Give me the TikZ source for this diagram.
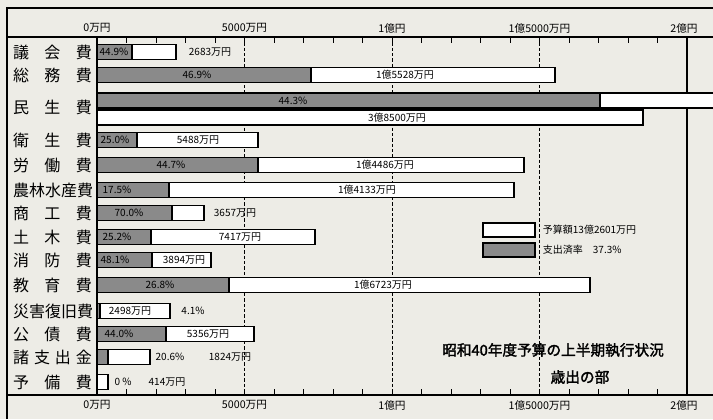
\documentclass[tikz,border=0pt]{standalone}
\usepackage{fontspec}
\setmainfont{Noto Sans CJK JP}
\newfontfamily\titlefont[FakeBold=2]{Noto Sans CJK JP}
\definecolor{paper}{RGB}{237,236,230}
\definecolor{spent}{RGB}{138,138,138}

\begin{document}
\begin{tikzpicture}[x=0.75pt,y=-0.75pt,
    bar/.style={draw=black,line width=0.9pt,fill=white},
    spentbar/.style={draw=black,line width=0.9pt,fill=spent},
    item/.style={font=\fontsize{12}{12}\selectfont,inner sep=0pt},
    pct/.style={font=\fontsize{7.5}{7.5}\selectfont,inner sep=0.5pt},
    amt/.style={font=\fontsize{7.5}{7.5}\selectfont,inner sep=0.5pt},
    scalelbl/.style={font=\fontsize{8}{8}\selectfont,inner sep=0pt},
    guide/.style={line width=0.7pt,dash pattern=on 2.5pt off 1.5pt}]
  \useasboundingbox[fill=paper] (0,0) rectangle (713,419);

  % frame and scale
  \draw[line width=0.8pt] (7,419) -- (7,8) -- (713,8);
  \draw[line width=0.8pt] (7,37) -- (713,37);
  \draw[line width=0.8pt] (7,395) -- (713,395);
  \draw[line width=0.8pt] (97,37) -- (97,395);
  \draw[line width=0.8pt] (687,37) -- (687,395);
  \draw[line width=0.7pt] (126.5,37)--++(0,6) (156,37)--++(0,6) (185.5,37)--++(0,6) (215,37)--++(0,6)
    (244.5,37)--++(0,6) (274,37)--++(0,6) (303.5,37)--++(0,6) (333,37)--++(0,6) (362.5,37)--++(0,6)
    (392,37)--++(0,6) (421.5,37)--++(0,6) (451,37)--++(0,6) (480.5,37)--++(0,6) (510,37)--++(0,6)
    (539.5,37)--++(0,6) (569,37)--++(0,6) (598.5,37)--++(0,6) (628,37)--++(0,6) (657.5,37)--++(0,6);
  \draw[line width=0.7pt] (126.5,395)--++(0,-6) (156,395)--++(0,-6) (185.5,395)--++(0,-6) (215,395)--++(0,-6)
    (244.5,395)--++(0,-6) (274,395)--++(0,-6) (303.5,395)--++(0,-6) (333,395)--++(0,-6) (362.5,395)--++(0,-6)
    (392,395)--++(0,-6) (421.5,395)--++(0,-6) (451,395)--++(0,-6) (480.5,395)--++(0,-6) (510,395)--++(0,-6)
    (539.5,395)--++(0,-6) (569,395)--++(0,-6) (598.5,395)--++(0,-6) (628,395)--++(0,-6) (657.5,395)--++(0,-6);
  \draw[guide] (244.5,37) -- (244.5,395);
  \draw[guide] (392,37) -- (392,395);
  \draw[guide] (539.5,37) -- (539.5,395);

  \node[scalelbl] (top0) at (97,28) {0万円};
  \node[scalelbl] (top5) at (244.5,28) {5000万円};
  \node[scalelbl] (top10) at (392,28) {1億円};
  \node[scalelbl] (top15) at (539.5,28) {1億5000万円};
  \node[scalelbl] (top20) at (684,28) {2億円};
  \node[scalelbl] (bot0) at (97,405) {0万円};
  \node[scalelbl] (bot5) at (244.5,405) {5000万円};
  \node[scalelbl] (bot10) at (392,405) {1億円};
  \node[scalelbl] (bot15) at (539.5,405) {1億5000万円};
  \node[scalelbl] (bot20) at (684,405) {2億円};

  % items
  \node[item] (gikai) at (52.5,52) {\makebox[59pt][s]{議\hfill 会\hfill 費}};
  \node[item] (somu) at (52.5,75) {\makebox[59pt][s]{総\hfill 務\hfill 費}};
  \node[item] (minsei) at (52.5,107) {\makebox[59pt][s]{民\hfill 生\hfill 費}};
  \node[item] (eisei) at (52.5,140) {\makebox[59pt][s]{衛\hfill 生\hfill 費}};
  \node[item] (rodo) at (52.5,165) {\makebox[59pt][s]{労\hfill 働\hfill 費}};
  \node[item] (norin) at (52.5,190) {\makebox[59pt][s]{農\hfill 林\hfill 水\hfill 産\hfill 費}};
  \node[item] (shoko) at (52.5,213) {\makebox[59pt][s]{商\hfill 工\hfill 費}};
  \node[item] (doboku) at (52.5,237) {\makebox[59pt][s]{土\hfill 木\hfill 費}};
  \node[item] (shobo) at (52.5,260) {\makebox[59pt][s]{消\hfill 防\hfill 費}};
  \node[item] (kyoiku) at (52.5,285) {\makebox[59pt][s]{教\hfill 育\hfill 費}};
  \node[item] (saigai) at (52.5,311) {\makebox[59pt][s]{災\hfill 害\hfill 復\hfill 旧\hfill 費}};
  \node[item] (kosai) at (52.5,334) {\makebox[59pt][s]{公\hfill 債\hfill 費}};
  \node[item] (shoshi) at (52.5,357) {\makebox[59pt][s]{諸\hfill 支\hfill 出\hfill 金}};
  \node[item] (yobi) at (52.5,382) {\makebox[59pt][s]{予\hfill 備\hfill 費}};

  % bars: budget (white) and spent part (grey)
  \draw[bar] (97,44.5) rectangle (176,59.5);  \draw[spentbar] (97,44.5) rectangle (132,59.5);
  \draw[bar] (97,67.5) rectangle (555,82.5);  \draw[spentbar] (97,67.5) rectangle (311,82.5);
  \draw[bar] (97,93) rectangle (720,108);     \draw[spentbar] (97,93) rectangle (600,108);
  \draw[bar] (97,110) rectangle (643,125);
  \draw[bar] (97,132.5) rectangle (258,147.5); \draw[spentbar] (97,132.5) rectangle (137,147.5);
  \draw[bar] (97,157.5) rectangle (524,172.5); \draw[spentbar] (97,157.5) rectangle (258,172.5);
  \draw[bar] (97,182.5) rectangle (514,197.5); \draw[spentbar] (97,182.5) rectangle (169,197.5);
  \draw[bar] (97,205.5) rectangle (204,220.5); \draw[spentbar] (97,205.5) rectangle (172,220.5);
  \draw[bar] (97,229.5) rectangle (315,244.5); \draw[spentbar] (97,229.5) rectangle (151,244.5);
  \draw[bar] (97,252.5) rectangle (211,267.5); \draw[spentbar] (97,252.5) rectangle (152,267.5);
  \draw[bar] (97,277.5) rectangle (590,292.5); \draw[spentbar] (97,277.5) rectangle (229,292.5);
  \draw[bar] (97,303.5) rectangle (170,318.5); \draw[spentbar] (97,303.5) rectangle (100,318.5);
  \draw[bar] (97,326.5) rectangle (254,341.5); \draw[spentbar] (97,326.5) rectangle (166,341.5);
  \draw[bar] (97,349.5) rectangle (150,364.5); \draw[spentbar] (97,349.5) rectangle (108,364.5);
  \draw[bar] (97,374.5) rectangle (108,389.5);

  % rates and amounts
  \node[pct] (gikaiPct) at (114,52) {44.9\%};
  \node[amt] (gikaiAmt) at (210,52) {2683万円};
  \node[pct] (somuPct) at (197,75) {46.9\%};
  \node[amt] (somuAmt) at (405,75) {1億5528万円};
  \node[pct] (minseiPct) at (293,100.5) {44.3\%};
  \node[amt] (minseiAmt) at (397,117.5) {3億8500万円};
  \node[pct] (eiseiPct) at (115,140) {25.0\%};
  \node[amt] (eiseiAmt) at (198,140) {5488万円};
  \node[pct] (rodoPct) at (171,165) {44.7\%};
  \node[amt] (rodoAmt) at (385,165) {1億4486万円};
  \node[pct] (norinPct) at (117,190) {17.5\%};
  \node[amt] (norinAmt) at (367,190) {1億4133万円};
  \node[pct] (shokoPct) at (129,213) {70.0\%};
  \node[amt] (shokoAmt) at (235,213) {3657万円};
  \node[pct] (dobokuPct) at (117,237) {25.2\%};
  \node[amt] (dobokuAmt) at (240,237) {7417万円};
  \node[pct] (shoboPct) at (115,260) {48.1\%};
  \node[amt] (shoboAmt) at (184,260) {3894万円};
  \node[pct] (kyoikuPct) at (160,285) {26.8\%};
  \node[amt] (kyoikuAmt) at (383,285) {1億6723万円};
  \node[amt] (saigaiAmt) at (130,311) {2498万円};
  \node[pct] (saigaiPct) at (193,311) {4.1\%};
  \node[pct] (kosaiPct) at (119,334) {44.0\%};
  \node[amt] (kosaiAmt) at (208,334) {5356万円};
  \node[pct] (shoshiPct) at (170,357) {20.6\%};
  \node[amt] (shoshiAmt) at (230,357) {1824万円};
  \node[pct] (yobiPct) at (123,382) {0 \%};
  \node[amt] (yobiAmt) at (167,382) {414万円};

  % legend
  \draw[bar] (483,223) rectangle (535,237);
  \draw[spentbar] (483,243) rectangle (535,257);
  \node[amt,anchor=west] (budgetKey) at (542,230) {予算額13億2601万円};
  \node[amt,anchor=west] (spentKey) at (542,250) {支出済率\quad 37.3\%};

  % title
  \node[font=\titlefont\fontsize{11}{11}\selectfont] (title) at (553,350) {昭和40年度予算の上半期執行状況};
  \node[font=\titlefont\fontsize{11}{11}\selectfont] (subtitle) at (580,377) {歳出の部};
\end{tikzpicture}
\end{document}
